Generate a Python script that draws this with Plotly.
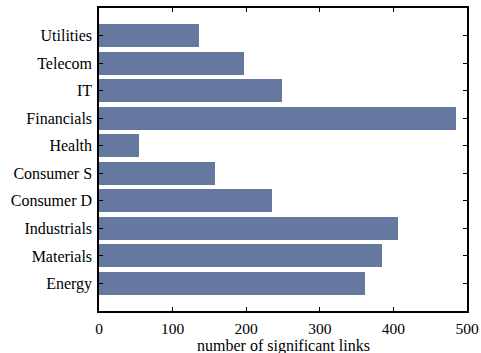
import plotly.graph_objects as go

sectors = ["Energy", "Materials", "Industrials", "Consumer D", "Consumer S",
           "Health", "Financials", "IT", "Telecom", "Utilities"]
links = [361, 384, 406, 235, 158, 54, 485, 249, 197, 136]
x_ticks = [0, 100, 200, 300, 400, 500]
x_label = "number of significant links"

fig = go.Figure(go.Bar(
    x=links, y=list(range(len(sectors))), orientation="h",
    width=0.84, marker=dict(color="rgb(100,120,160)", line=dict(width=0)),
))

serif = "Liberation Serif, Times New Roman, serif"
fig.update_layout(
    width=481, height=353,
    margin=dict(l=99, r=14, t=8, b=42),
    plot_bgcolor="white", paper_bgcolor="white",
    font=dict(family=serif, size=15, color="black"), showlegend=False, bargap=0,
)
fig.update_xaxes(
    range=[0, 500], tickvals=x_ticks, ticktext=[str(v) for v in x_ticks],
    tickfont=dict(family=serif, size=15.5, color="black"),
    ticks="inside", ticklen=4, tickcolor="black", tickwidth=1,
    showline=True, linecolor="black", linewidth=1.5, mirror="ticks",
    showgrid=False, zeroline=False, ticklabelstandoff=3, automargin=False,
)
fig.update_yaxes(
    range=[-1, 10], tickvals=list(range(len(sectors))), ticktext=sectors,
    tickfont=dict(family=serif, size=16, color="black"),
    ticks="inside", ticklen=4, tickcolor="black", tickwidth=1,
    showline=True, linecolor="black", linewidth=1.5, mirror="ticks",
    showgrid=False, zeroline=False, ticklabelstandoff=2, automargin=False,
)
# x-axis title placed just below the tick labels
fig.add_annotation(
    text=x_label, xref="paper", yref="paper", x=0.5, y=-0.117,
    xanchor="center", yanchor="middle", showarrow=False,
    font=dict(family=serif, size=16, color="black"),
)
fig.write_html("out.html")
